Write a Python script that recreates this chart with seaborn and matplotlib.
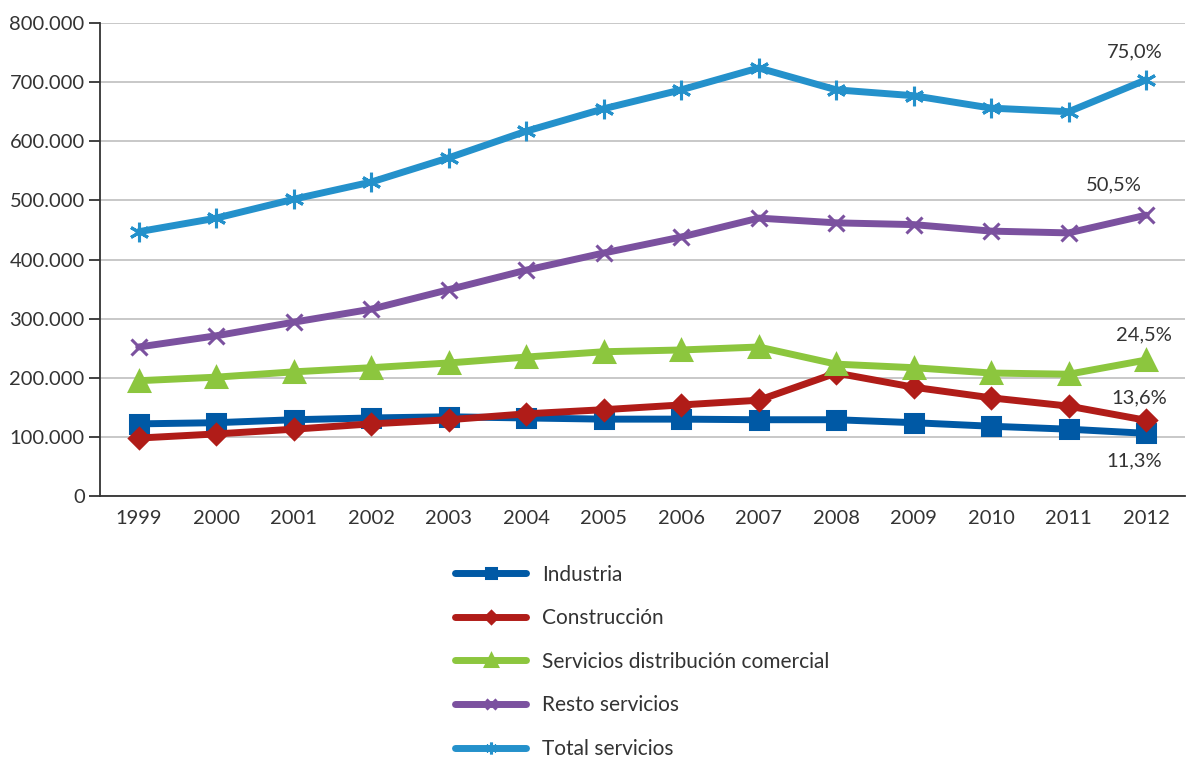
import matplotlib
matplotlib.use("Agg")
import matplotlib.pyplot as plt
import matplotlib.ticker as mticker
import seaborn as sns
import pandas as pd

years = [1999, 2000, 2001, 2002, 2003, 2004, 2005, 2006, 2007, 2008, 2009, 2010, 2011, 2012]

industria = [122000, 124000, 129000, 132000, 134000, 132000, 130000, 130000, 129000, 129000, 124000, 118000, 113000, 106000]
construccion = [98000, 105000, 113000, 122000, 129000, 139000, 146000, 154000, 162000, 208000, 184000, 166000, 152000, 128000]
distribucion = [195000, 201000, 210000, 217000, 225000, 235000, 244000, 247000, 252000, 223000, 217000, 208000, 206000, 230000]
resto = [252000, 271000, 294000, 316000, 349000, 382000, 411000, 438000, 470000, 462000, 459000, 448000, 445000, 475000]
total = [447000, 470000, 502000, 531000, 572000, 617000, 655000, 687000, 724000, 687000, 677000, 656000, 650000, 704000]

series_names = ["Industria", "Construcción", "Servicios distribución comercial",
                "Resto servicios", "Total servicios"]
share_2012 = ["11,3%", "13,6%", "24,5%", "50,5%", "75,0%"]

colors = ["#0059A5", "#B01C18", "#8CC63E", "#7B519F", "#2491CB"]
markers = ["s", "D", "^", "x", (6, 2, 0)]
msizes = [13, 10, 14, 12, 14]

sns.set_theme(style="white")
plt.rcParams["font.family"] = ["Lato", "DejaVu Sans"]

fig = plt.figure(figsize=(11.89, 7.59), dpi=100)
ax = fig.add_axes([0.0841, 0.3465, 0.9125, 0.6232])

values = [industria, construccion, distribucion, resto, total]
for name, vals, col, mk, ms in zip(series_names, values, colors, markers, msizes):
    df = pd.DataFrame({"pos": range(len(years)), "valor": vals})
    sns.lineplot(data=df, x="pos", y="valor", ax=ax, color=col, linewidth=5,
                 marker=mk, markersize=ms, markeredgecolor=col, markeredgewidth=2.2,
                 label=name, solid_capstyle="round")

# Shares for the last year (offsets in points)
last = len(years) - 1
offsets = {"Industria": (-8.5, -20), "Construcción": (-5, 16.5),
           "Servicios distribución comercial": (-1.5, 18),
           "Resto servicios": (-23, 21.5), "Total servicios": (-8.5, 20)}
for name, vals, lab in zip(series_names, values, share_2012):
    dx, dy = offsets[name]
    ax.annotate(lab, (last, vals[-1]), xytext=(dx, dy), textcoords="offset points",
                ha="center", va="center", fontsize=14.5, color="#333333")

ax.set_xlim(-0.5, len(years) - 0.5)
ax.set_ylim(0, 800000)
ax.yaxis.set_major_locator(mticker.MultipleLocator(100000))
ax.yaxis.set_major_formatter(mticker.FuncFormatter(
    lambda v, p: "0" if v == 0 else f"{int(v):,}".replace(",", ".")))
ax.set_xticks(range(len(years)))
ax.set_xticklabels([str(y) for y in years])
ax.set_xticks([i - 0.5 for i in range(len(years) + 1)], minor=True)
ax.tick_params(axis="x", which="major", length=0, pad=10, labelsize=14.5, labelcolor="#333333")
ax.tick_params(axis="x", which="minor", length=8, width=1.3, color="#333333", direction="out")
ax.tick_params(axis="y", which="major", length=8, width=1.3, color="#333333",
               direction="out", labelsize=14.5, labelcolor="#333333", left=True, pad=3)
ax.set_xlabel("")
ax.set_ylabel("")

ax.grid(axis="y", color="#C4C4C4", linewidth=1.3)
ax.set_axisbelow(True)
for s in ["top", "right"]:
    ax.spines[s].set_visible(False)
for s in ["left", "bottom"]:
    ax.spines[s].set_color("#333333")
    ax.spines[s].set_linewidth(1.3)

handles, labels = ax.get_legend_handles_labels()
ax.legend_.remove()
fig.legend(handles, labels, loc="upper left", bbox_to_anchor=(0.3673, 0.2807),
           frameon=False, fontsize=15, handlelength=3.4, handletextpad=0.76,
           labelspacing=1.13, labelcolor="#333333", markerscale=0.6)

fig.savefig("out.png", dpi=100)
